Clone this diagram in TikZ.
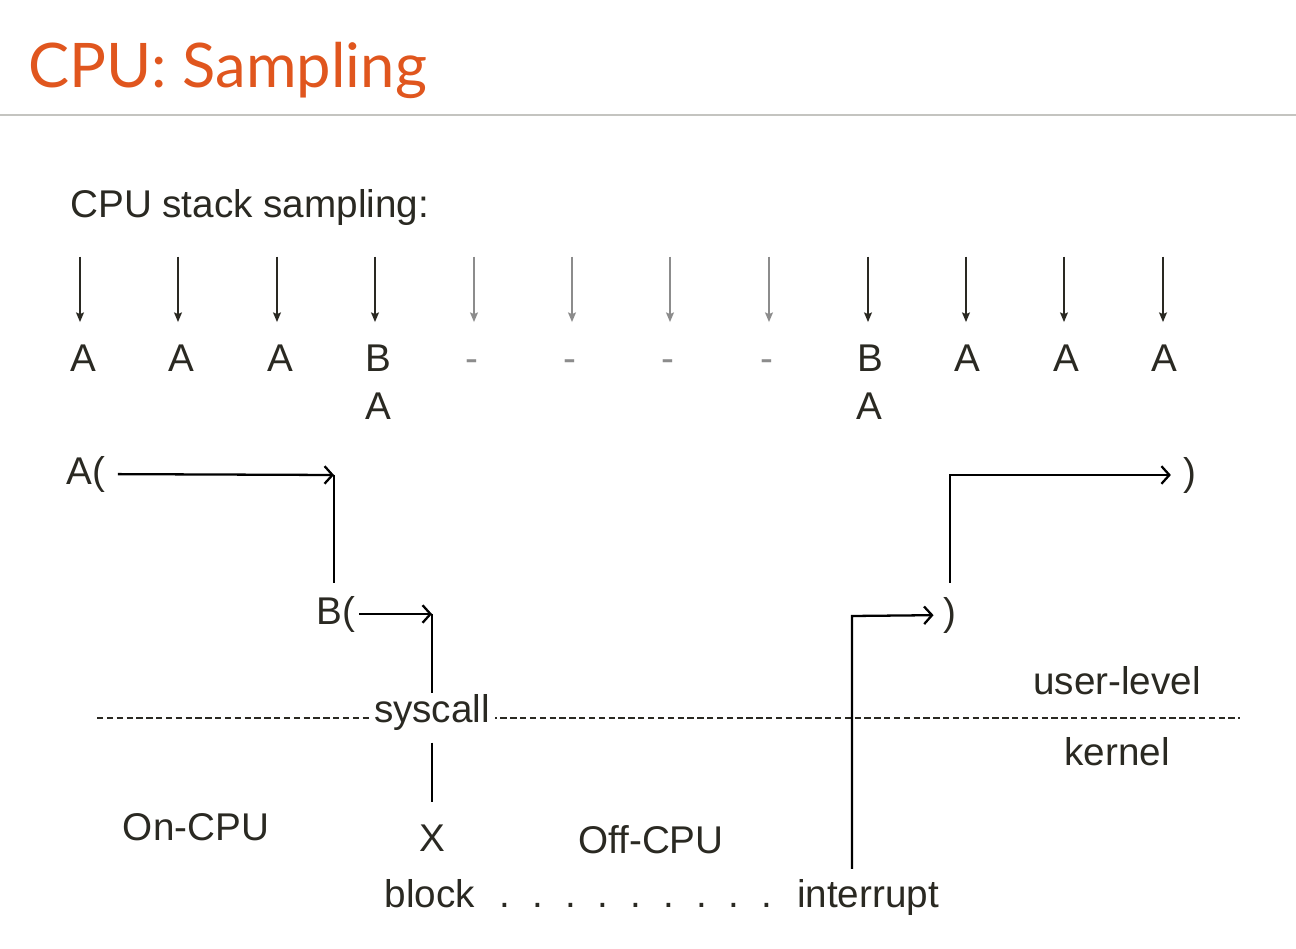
\documentclass[tikz,border=0pt]{standalone}
\usepackage{fontspec}
\setmainfont{Liberation Sans}
\newfontfamily\titlefont{Lato}
\usetikzlibrary{arrows.meta}
\definecolor{ttl}{HTML}{E0561E}
\definecolor{ink}{HTML}{2A2922}
\definecolor{faded}{HTML}{8C8C8C}
\definecolor{rulec}{HTML}{C4C4C0}
\begin{document}
\begin{tikzpicture}[x=0.02cm,y=-0.02cm,
  txt/.style={font=\fontsize{22}{26}\selectfont, text=ink, inner sep=0pt},
  lbl/.style={txt, text height=15.5pt, text depth=0pt},
  darr/.style={line width=0.9pt, -{Stealth[length=5.5pt,width=4.5pt,inset=1pt]}, shorten >=12.5pt},
  harr/.style={line width=1.3pt, -{Straight Barb[length=4.5pt,width=10pt]}},
  seg/.style={line width=1.3pt}]
\useasboundingbox (0,0) rectangle (1296,949);
% title
\node[anchor=base west, font=\titlefont\fontsize{35}{42}\selectfont, text=ttl, inner sep=0pt] (title) at (28,88) {CPU: Sampling};
\coordinate (rl) at (0,115);
\coordinate (rr) at (1296,115);
\draw[rulec, line width=1.2pt] (rl) -- (rr);
% heading
\node[txt, anchor=base west] (head) at (70,218) {CPU stack sampling:};
% sampling arrows and labels
\foreach \ax/\lx/\t/\c [count=\i] in {80/83/A/ink, 178/181/A/ink, 277/280/A/ink, 375/378/B/ink,
    474/472/-/faded, 572/570/-/faded, 670/668/-/faded, 769/767/-/faded,
    868/870/B/ink, 966/967/A/ink, 1064/1066/A/ink, 1163/1164/A/ink}{
  \coordinate (t\i) at (\ax,257);
  \node[lbl, text=\c] (l\i) at (\lx,358) {\t};
  \draw[darr, draw=\c, fill=\c] (t\i) -- (t\i |- l\i.north);
}
\node[lbl] (l4b) at (378,406) {A};
\node[lbl] (l9b) at (869,406) {A};
% user / kernel boundary
\coordinate (dl) at (97,718);
\coordinate (dr) at (1240,718);
\draw[ink, line width=1pt, dash pattern=on 3.6pt off 2pt] (dl) -- (dr);
\node[txt, anchor=base, fill=white, inner xsep=3pt, text height=16pt, text depth=5pt] (sys) at (432,723) {syscall};
\node[txt] (ul) at (1117,681) {user-level};
\node[txt] (kern) at (1117,752) {kernel};
% left path
\node[txt] (Aopen) at (86,474) {A(};
\coordinate (c1) at (334,475);
\coordinate (c2) at (334,583);
\node[txt] (Bopen) at (336,614) {B(};
\coordinate (c3) at (432,614);
\node[lbl, anchor=base] (X) at (432,851) {X};
\draw[harr, shorten <=7pt] (Aopen) -- (c1);
\draw[seg] (c1) -- (c2);
\draw[harr, shorten <=2pt] (Bopen) -- (c3);
\draw[seg, shorten >=1pt] (c3) -- (sys.north -| c3);
\draw[seg, shorten <=6pt, shorten >=12pt] (sys.south) -- (X.north);
% bottom labels
\node[txt] (oncpu) at (196,827) {On-CPU};
\node[txt] (offcpu) at (651,840) {Off-CPU};
\node[txt, anchor=base, text height=16pt, text depth=5pt] (block) at (430,907) {block};
\node[txt, anchor=base] (dots) at (636,907) {.\hspace{12.5pt}.\hspace{12.5pt}.\hspace{12.5pt}.\hspace{12.5pt}.\hspace{12.5pt}.\hspace{12.5pt}.\hspace{12.5pt}.\hspace{12.5pt}.};
\node[txt, anchor=base, text height=16pt, text depth=5pt] (intr) at (868,907) {interrupt};
% right path
\coordinate (c5) at (852,616);
\node[txt] (rp1) at (950,615) {)};
\coordinate (c7) at (950,475);
\node[txt] (rp2) at (1190,475) {)};
\draw[harr, shorten <=5.5pt, shorten >=5.5pt] (c5 |- intr.north) -- (c5) -- (rp1);
\draw[harr, shorten <=8pt, shorten >=7pt] (rp1.north) -- (c7) -- (rp2);
\end{tikzpicture}
\end{document}
